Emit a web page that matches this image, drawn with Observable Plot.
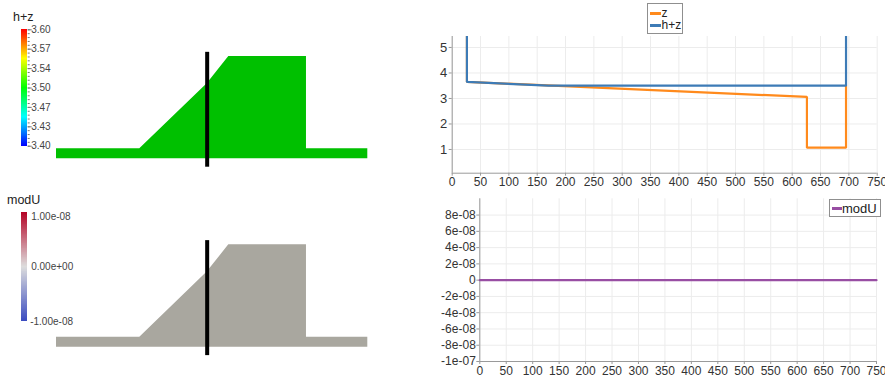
<!DOCTYPE html>
<html><head><meta charset="utf-8">
<script src="https://cdn.jsdelivr.net/npm/d3@7"></script>
<script src="https://cdn.jsdelivr.net/npm/@observablehq/plot@0.6"></script>
<style>
html,body{margin:0;padding:0;background:#fff;}
#root{position:relative;width:885px;height:378px;overflow:hidden;font-family:"Liberation Sans",Arial,sans-serif;}
#root svg{position:absolute;left:0;top:0;}
.title{position:absolute;font-size:12.5px;color:#222;line-height:1;}
.legend{position:absolute;background:#fff;border:1px solid #8f8f8f;box-sizing:border-box;font-size:12px;color:#222;}
.legend .sw{position:absolute;height:2.5px;}
.legend .tx{position:absolute;line-height:1;}
</style></head><body><div id="root"></div>
<script>
// ---------- data ----------
// left panels: mesh outline (side view), arbitrary length units
const meshX = [0, 267.6, 484, 553.5, 803, 803, 1000];
const meshTop = [32.1, 32.1, 241, 328.6, 328.6, 32.1, 32.1];
const cutLineX = [484];
const cutLineY = [-27, 342];

// colour bars
const hzDomain = [3.40, 3.60];
const hzTicks = [3.40, 3.4333, 3.4667, 3.50, 3.5333, 3.5667, 3.60];
const hzTickLabels = ["3.40", "3.43", "3.47", "3.50", "3.54", "3.57", "3.60"];
const hzStops = [3.40, 3.45, 3.50, 3.55, 3.60];
const hzColors = ["#0000ff", "#00ffff", "#00ff00", "#ffff00", "#ff0000"];
const modUDomain = [-1e-8, 1e-8];
const modUTicks = [-1e-8, 0, 1e-8];
const modUTickLabels = ["-1.00e-08", "0.00e+00", "1.00e-08"];
const modUStops = [-1e-8, 0, 1e-8];
const modUColors = ["#3b4cc0", "#dddddd", "#b40426"];

// right panels: plot over line
const xTicks = [0, 50, 100, 150, 200, 250, 300, 350, 400, 450, 500, 550, 600, 650, 700, 750];
const topYTicks = [1, 2, 3, 4, 5];
const zX = [26, 26, 626, 626, 695, 695];
const zY = [6.0, 3.65, 3.06, 1.07, 1.07, 3.50];
const hzX = [26, 26, 170, 695, 695];
const hzY = [6.0, 3.65, 3.50, 3.50, 6.0];
const modUX = [0, 750];
const modUY = [0, 0];
const botYTicks = [-1e-7, -8e-8, -6e-8, -4e-8, -2e-8, 0, 2e-8, 4e-8, 6e-8, 8e-8];
const botYLabels = ["-1e-07", "-8e-08", "-6e-08", "-4e-08", "-2e-08", "0", "2e-08", "4e-08", "6e-08", "8e-08"];

// ---------- styling ----------
const W = 885, H = 378;
const GRID = "#ececec", AX = "#9a9a9a", TXT = "#333";
const ORANGE = "#ff8a1c", BLUE = "#3d7bb6", PURPLE = "#984ea3";
const baseStyle = {background: "none", fontFamily: "'Liberation Sans', Arial, sans-serif", fontSize: "12px", color: TXT, overflow: "visible"};
const root = document.getElementById("root");

// ---------- left: meshes ----------
function meshPlot(top, bottom, fillColor) {
  return Plot.plot({
    width: W, height: H,
    marginLeft: 56, marginRight: W - 367.3, marginTop: top, marginBottom: H - bottom,
    x: {domain: [0, 1000], axis: null},
    y: {domain: [0, 328.6], axis: null},
    style: baseStyle,
    marks: [
      Plot.area(meshX, {x1: meshX, y1: 0, y2: meshTop, fill: fillColor, curve: "linear"}),
      Plot.ruleX(cutLineX, {y1: cutLineY[0], y2: cutLineY[1], stroke: "#000", strokeWidth: 4})
    ]
  });
}
root.append(meshPlot(56, 158.3, "#00c000"));
root.append(meshPlot(244.3, 346.7, "#a9a79f"));

// ---------- left: colour bars ----------
function colorBar(domain, stops, colors, top, bottom, marks) {
  const n = 240;
  const step = (domain[1] - domain[0]) / n;
  const cells = d3.range(n).map(i => domain[0] + i * step);
  return Plot.plot({
    width: W, height: H,
    marginLeft: 20.5, marginRight: W - 26.7, marginTop: top, marginBottom: H - bottom,
    x: {domain: [0, 1], axis: null},
    y: {domain, axis: null},
    color: {type: "linear", domain: stops, range: colors, interpolate: "rgb"},
    style: {...baseStyle, fontSize: "10px"},
    marks: [
      Plot.rect(cells, {x1: 0, x2: 1, y1: d => d, y2: d => d + step * 1.6, fill: d => d + step / 2, shapeRendering: "crispEdges"}),
      ...marks
    ]
  });
}
root.append(colorBar(hzDomain, hzStops, hzColors, 29.3, 145.7, [
  Plot.axisY({anchor: "right", ticks: d3.range(3.40, 3.6001, 0.2 / 30), tickSize: 2, tickFormat: () => "", stroke: "#777"}),
  Plot.axisY({anchor: "right", ticks: hzTicks, tickSize: 4, tickPadding: 0, tickFormat: (d, i) => hzTickLabels[i], stroke: "#777", fill: "#444", fontSize: 10})
]));
root.append(colorBar(modUDomain, modUStops, modUColors, 212.3, 320.7, [
  Plot.text([modUTicks[2]], {x: 1, y: d => d, text: () => modUTickLabels[2], textAnchor: "start", dx: 4, dy: 4, fill: "#444", fontSize: 10}),
  Plot.text([modUTicks[1]], {x: 1, y: d => d, text: () => modUTickLabels[1], textAnchor: "start", dx: 4, fill: "#444", fontSize: 10}),
  Plot.text([modUTicks[0]], {x: 1, y: d => d, text: () => modUTickLabels[0], textAnchor: "start", dx: 3, dy: 1, fill: "#444", fontSize: 10})
]));

function addDiv(cls, css, html) {
  const d = document.createElement("div");
  d.className = cls; d.style.cssText = css; d.innerHTML = html;
  root.append(d); return d;
}
addDiv("title", "left:13px;top:11px;", "h+z");
addDiv("title", "left:7px;top:194px;", "modU");

// ---------- right top: z and h+z ----------
root.append(Plot.plot({
  width: W, height: H,
  marginLeft: 451.7, marginRight: W - 876.7, marginTop: 36, marginBottom: H - 172.7,
  x: {domain: [0, 750], label: null},
  y: {domain: [0.07, 5.43], label: null},
  style: baseStyle,
  marks: [
    Plot.gridX({ticks: xTicks, stroke: GRID, strokeOpacity: 1}),
    Plot.gridY({ticks: topYTicks, stroke: GRID, strokeOpacity: 1}),
    Plot.ruleX([0], {stroke: AX}),
    Plot.ruleY([0.07], {stroke: AX}),
    Plot.axisX({ticks: xTicks, tickSize: 3, tickPadding: 1, tickFormat: d => String(d), stroke: AX, fill: TXT, fontSize: 12, label: null}),
    Plot.axisY({ticks: topYTicks, tickSize: 3, tickPadding: 2, tickFormat: d => String(d), stroke: AX, fill: TXT, fontSize: 13, label: null}),
    Plot.line(zX, {x: zX, y: zY, stroke: ORANGE, strokeWidth: 2.2, clip: true, strokeLinejoin: "miter"}),
    Plot.line(hzX, {x: hzX, y: hzY, stroke: BLUE, strokeWidth: 2.2, clip: true, strokeLinejoin: "miter"})
  ]
}));

// ---------- right bottom: modU ----------
root.append(Plot.plot({
  width: W, height: H,
  marginLeft: 479.3, marginRight: W - 876, marginTop: 198.3, marginBottom: H - 361,
  x: {domain: [0, 750], label: null},
  y: {domain: [-1e-7, 1e-7], label: null},
  style: baseStyle,
  marks: [
    Plot.gridX({ticks: xTicks, stroke: GRID, strokeOpacity: 1}),
    Plot.gridY({ticks: botYTicks, stroke: GRID, strokeOpacity: 1}),
    Plot.ruleX([0], {stroke: AX}),
    Plot.ruleY([-1e-7], {stroke: AX}),
    Plot.axisX({ticks: xTicks, tickSize: 3, tickPadding: 2, tickFormat: d => String(d), stroke: AX, fill: TXT, fontSize: 12, label: null}),
    Plot.axisY({ticks: botYTicks, tickSize: 3, tickPadding: 1, tickFormat: (d, i) => botYLabels[i], stroke: AX, fill: TXT, fontSize: 12, label: null}),
    Plot.line(modUX, {x: modUX, y: modUY, stroke: PURPLE, strokeWidth: 2.2})
  ]
}));

// ---------- legends ----------
addDiv("legend", "left:646.5px;top:3.3px;width:36.5px;height:30.5px;",
  `<span class="sw" style="left:2px;top:8px;width:11px;background:${ORANGE}"></span><span class="tx" style="left:14px;top:2.5px;">z</span>` +
  `<span class="sw" style="left:2px;top:20px;width:11px;background:${BLUE}"></span><span class="tx" style="left:14px;top:15px;">h+z</span>`);
addDiv("legend", "left:828.5px;top:198.5px;width:52px;height:18px;",
  `<span class="sw" style="left:2px;top:7.5px;width:10px;background:${PURPLE}"></span><span class="tx" style="left:12.5px;top:2.5px;font-size:13px;">modU</span>`);
</script></body></html>
